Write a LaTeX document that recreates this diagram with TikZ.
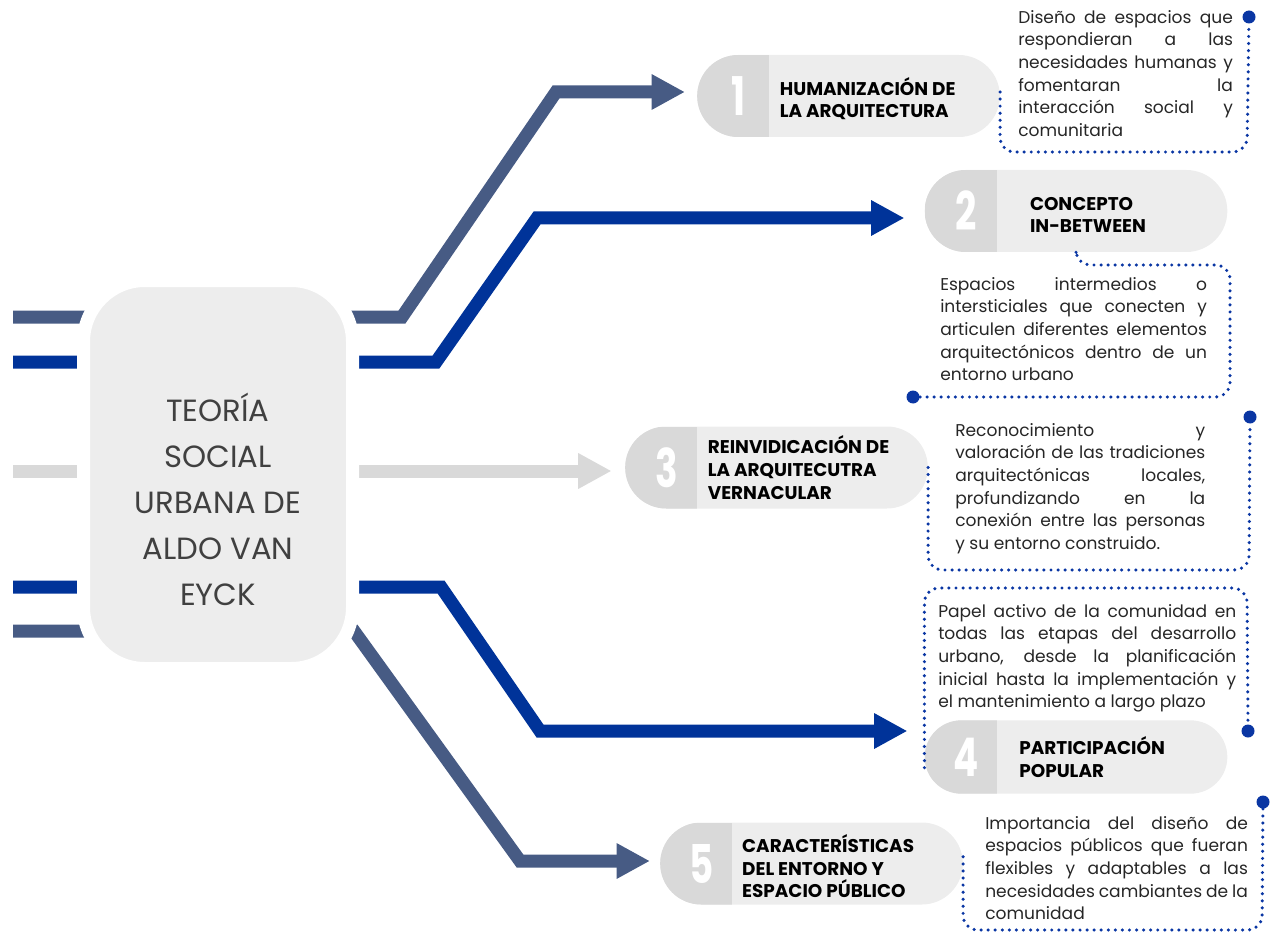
\documentclass[tikz,border=0pt]{standalone}
\usepackage{fontspec}
\setmainfont{Poppins}
\usepackage{xcolor}
\usepackage{tikz}
\usetikzlibrary{arrows.meta,shapes.misc,positioning}

\definecolor{pizarra}{HTML}{475B84}
\definecolor{azul}{HTML}{003399}
\definecolor{gris}{HTML}{D9D9D9}
\definecolor{grisclaro}{HTML}{EDEDED}
\definecolor{puntos}{HTML}{0A36A3}
\definecolor{textogris}{HTML}{404040}
\definecolor{textonegro}{HTML}{262626}

\newcommand{\jl}[1]{\makebox[\hsize][s]{\spaceskip=0pt\xspaceskip=0pt #1}\\}

\tikzset{
  flecha/.style={line width=9.75pt, -{Triangle[length=25pt,width=25pt]}},
  pill/.style={rounded rectangle, minimum width=227pt, minimum height=61.5pt,
    inner sep=0pt, fill=grisclaro,
    path picture={\fill[gris] (path picture bounding box.south west)
      rectangle ([xshift=54pt]path picture bounding box.north west);}},
  numero/.style={text=white, font=\fontsize{40pt}{40pt}\selectfont\bfseries},
  titulo/.style={anchor=west, align=left, inner sep=0pt, text=black,
    font=\fontsize{13.8pt}{17pt}\selectfont\bfseries},
  cuerpo/.style={anchor=north west, inner sep=0pt, align=justify, text=textonegro,
    font=\fontsize{12.8pt}{17pt}\selectfont},
  punteado/.style={draw=puntos, line width=2.6pt, dash pattern=on 0pt off 5.3pt,
    line cap=round, rounded corners=11pt},
  pin/.style={circle, fill=puntos, minimum size=9.75pt, inner sep=0pt}
}

\begin{document}
\begin{tikzpicture}[x=0.75pt,y=0.75pt,yscale=-1,xscale=1]
\useasboundingbox (0,0) rectangle (1270,934);

% Pills
\node[pill] (p1) at (848.5,96) {};
\node[pill] (p2) at (1076,211) {};
\node[pill] (p3) at (776.5,467.5) {};
\node[pill, minimum height=55pt] (p4) at (1076,757) {};
\node[pill] (p5) at (811.5,863.5) {};

% Numbers
\node[numero] (n1) at ([xshift=31.5pt]p1.west) {\scalebox{0.7}[1]{1}};
\node[numero] (n2) at ([xshift=31.5pt]p2.west) {\scalebox{0.7}[1]{2}};
\node[numero] (n3) at ([xshift=31.5pt]p3.west) {\scalebox{0.7}[1]{3}};
\node[numero] (n4) at ([xshift=31.5pt]p4.west) {\scalebox{0.7}[1]{4}};
\node[numero] (n5) at ([xshift=31.5pt]p5.west) {\scalebox{0.7}[1]{5}};

% Titles
\node[titulo] (h1) at ([xshift=62pt,yshift=2pt]p1.west) {HUMANIZACIÓN DE\\LA ARQUITECTURA};
\node[titulo] (h2) at ([xshift=79pt,yshift=3pt]p2.west) {CONCEPTO\\IN-BETWEEN};
\node[titulo] (h3) at ([xshift=62pt]p3.west) {REINVIDICACIÓN DE\\LA ARQUITECUTRA\\VERNACULAR};
\node[titulo] (h4) at ([xshift=71pt]p4.west) {PARTICIPACIÓN\\POPULAR};
\node[titulo] (h5) at ([xshift=61.5pt,yshift=2pt]p5.west) {CARACTERÍSTICAS\\DEL ENTORNO Y\\ESPACIO PÚBLICO};

% Arrow ends and bends
\coordinate (s1) at (13,317);
\coordinate (k1a) at (402,317);
\coordinate (k1b) at (556,92);
\coordinate (s2) at (13,362);
\coordinate (k2a) at (436,362);
\coordinate (k2b) at (537,218);
\coordinate (s3) at (13,471);
\coordinate (s4) at (13,587);
\coordinate (k4a) at (441,587);
\coordinate (k4b) at (540,731);
\coordinate (s5) at (13,631);
\coordinate (k5a) at (354,631);
\coordinate (k5b) at (520,861);

% Arrows
\draw[flecha, pizarra, shorten >=9pt] (s1) -- (k1a) -- (k1b) -- (k1b -| p1.west);
\draw[flecha, azul, shorten >=15pt] (s2) -- (k2a) -- (k2b) -- (k2b -| p2.west);
\draw[flecha, gris, shorten >=10pt] (s3) -- (s3 -| p3.west);
\draw[flecha, azul, shorten >=12.75pt] (s4) -- (k4a) -- (k4b) -- (k4b -| p4.west);
\draw[flecha, pizarra, shorten >=7.5pt] (s5) -- (k5a) -- (k5b) -- (k5b -| p5.west);

% Central box
\node[draw=white, line width=9.75pt, fill=grisclaro, rounded corners=46pt,
  minimum width=201.75pt, minimum height=291pt] (teoria) at (218,474.5) {};
\node[align=center, text=textogris, font=\fontsize{23pt}{34.5pt}\selectfont]
  (teoriatxt) at (218,499) {TEORÍA\\SOCIAL\\URBANA DE\\ALDO VAN\\EYCK};

% Descriptions
\node[cuerpo, text width=161pt] (t1) at (1018,10) {%
\jl{Diseño de espacios que}
\jl{respondieran a las}
\jl{necesidades humanas y}
\jl{fomentaran la}
\jl{interacción social y}
comunitaria};
\node[cuerpo, text width=200pt] (t2) at (940,277) {%
\jl{Espacios intermedios o}
\jl{intersticiales que conecten y}
\jl{articulen diferentes elementos}
\jl{arquitectónicos dentro de un}
entorno urbano};
\node[cuerpo, text width=187.5pt] (t3) at (955,423) {%
\jl{Reconocimiento y}
\jl{valoración de las tradiciones}
\jl{arquitectónicas locales,}
\jl{profundizando en la}
\jl{conexión entre las personas}
y su entorno construido.};
\node[cuerpo, text width=223.5pt] (t4) at (938,604) {%
\jl{Papel activo de la comunidad en}
\jl{todas las etapas del desarrollo}
\jl{urbano, desde la planificación}
\jl{inicial hasta la implementación y}
el mantenimiento a largo plazo};
\node[cuerpo, text width=197pt] (t5) at (985,816) {%
\jl{Importancia del diseño de}
\jl{espacios públicos que fueran}
\jl{flexibles y adaptables a las}
\jl{necesidades cambiantes de la}
comunidad};

% Pins and dotted links
\node[pin] (d1) at (1249,17) {};
\node[pin] (d2) at (913,397) {};
\node[pin] (d3) at (1250,417) {};
\node[pin] (d4) at (1248,731) {};
\node[pin] (d5) at (1263,802) {};
\coordinate (c1) at (1247,152);
\coordinate (c2) at (1230,265);
\coordinate (c3) at (1249,570);
\coordinate (c4) at (1247,588);
\coordinate (c5) at (1262,930);

\draw[punteado] ([yshift=-3pt]p1.east) |- (c1) -- (d1);
\draw[punteado] (p2.south) |- (c2) |- (d2);
\draw[punteado] (p3.east) |- (c3) -- (d3);
\draw[punteado] ([yshift=8pt]p4.west) |- (c4) -- (d4);
\draw[punteado] ([yshift=-5pt]p5.east) |- (c5) -- (d5);
\end{tikzpicture}
\end{document}
